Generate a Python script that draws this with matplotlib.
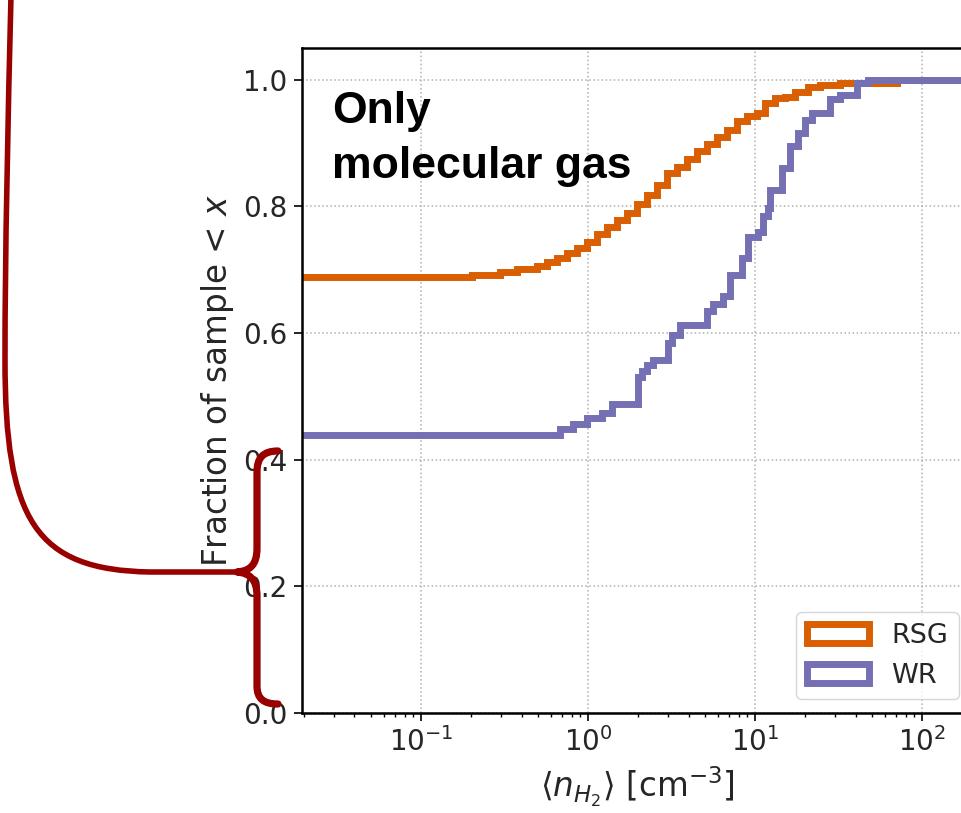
import matplotlib
matplotlib.use("Agg")
import matplotlib.pyplot as plt
from matplotlib.path import Path
from matplotlib.patches import PathPatch, Patch

# Cumulative fractions of each sample below <n_H2>, read as step curves:
# each level holds from its edge up to the next edge.
rsg_start = 0.689
rsg_edges = [0.2020, 0.2972, 0.3756, 0.4950, 0.5681, 0.6522, 0.7484, 0.8592,
             0.9863, 1.132, 1.299, 1.492, 1.712, 1.966, 2.256, 2.590, 2.973,
             3.412, 3.916, 4.495, 5.160, 5.923, 6.798, 7.803, 8.956, 10.28,
             11.48, 13.18, 15.12, 17.36, 20.77, 24.50, 32.28, 70.8]
rsg_levels = [0.692, 0.697, 0.701, 0.706, 0.712, 0.718, 0.726, 0.735,
              0.743, 0.757, 0.767, 0.779, 0.790, 0.804, 0.818, 0.833, 0.852,
              0.862, 0.875, 0.887, 0.898, 0.909, 0.920, 0.935, 0.942, 0.948,
              0.963, 0.971, 0.973, 0.981, 0.989, 0.992, 0.994, 1.0]

wr_start = 0.439
wr_edges = [0.680, 0.813, 0.986, 1.213, 1.392, 1.993, 2.106, 2.256, 2.451,
            3.013, 3.184, 3.555, 5.16, 5.60, 6.43, 7.09, 8.36, 9.08, 10.42,
            11.17, 11.96, 12.30, 14.51, 16.20, 18.09, 19.93, 21.95, 28.13,
            32.28, 40.82, 47.51]
wr_levels = [0.448, 0.457, 0.466, 0.474, 0.488, 0.531, 0.540, 0.549, 0.558,
             0.584, 0.597, 0.613, 0.634, 0.645, 0.658, 0.692, 0.718, 0.752,
             0.760, 0.784, 0.797, 0.826, 0.860, 0.895, 0.916, 0.937, 0.947,
             0.969, 0.976, 0.994, 1.0]

series_names = ["RSG", "WR"]
series_colors = ["#d95f02", "#7570b3"]

x_range = (0.0194, 200)
y_range = (0.0, 1.05)
y_ticks = [0.0, 0.2, 0.4, 0.6, 0.8, 1.0]

W, H = 961, 813
fig = plt.figure(figsize=(W / 100, H / 100), dpi=100)
fig.patch.set_facecolor("white")


def fx(px):
    return px / W


def fy(py):
    return 1 - py / H


ax = fig.add_axes([fx(302), fy(713), (972.3 - 302) / W, (713 - 48) / H])

lw = 5
for name, color, start, edges, levels in [
    ("RSG", series_colors[0], rsg_start, rsg_edges, rsg_levels),
    ("WR", series_colors[1], wr_start, wr_edges, wr_levels),
]:
    xs = [x_range[0] / 2] + edges + [x_range[1] * 2]
    ys = [start] + levels + [levels[-1]]
    ax.step(xs, ys, where="post", color=color, lw=lw,
            solid_joinstyle="miter", solid_capstyle="butt")

ax.set_xscale("log")
ax.set_xlim(*x_range)
ax.set_ylim(*y_range)
ax.set_yticks(y_ticks)
ax.grid(True, which="major", ls=":", color="#b0b0b0", lw=1.1)
ax.set_axisbelow(True)

for s in ax.spines.values():
    s.set_linewidth(1.8)
    s.set_color("black")

ax.tick_params(axis="both", which="major", labelsize=20, length=5.5,
               width=1.2, pad=5, colors="black", labelcolor="#262626")
ax.tick_params(axis="x", which="minor", length=3, width=1)

ax.set_xlabel(r"$\langle n_{H_2}\rangle$ [cm$^{-3}$]", fontsize=23.5,
              color="#262626", labelpad=5)
ax.set_ylabel("Fraction of sample < $x$", fontsize=23.5, color="#262626",
              labelpad=5)

handles = [Patch(facecolor="none", edgecolor=c, lw=lw, label=n)
           for n, c in zip(series_names, series_colors)]
ax.legend(handles=handles, loc="lower right", fontsize=19.5,
          labelcolor="#262626", handlelength=2.3)

fig.text(fx(332), fy(178), "Only\nmolecular gas", family="Liberation Sans",
         weight="bold", fontsize=32, ha="left", va="baseline",
         linespacing=1.45, color="black")

# Dark red connector curve and curly brace
red = "#990000"


def pix_path(verts, codes):
    return Path([(fx(x), fy(y)) for x, y in verts], codes)


M, C, L = Path.MOVETO, Path.CURVE4, Path.LINETO
curve_verts = [(11, -4), (8, 120), (5, 250), (5, 360),
               (5, 520), (35, 570), (150, 572), (240, 572)]
curve_codes = [M, C, C, C, C, C, C, L]
fig.add_artist(PathPatch(pix_path(curve_verts, curve_codes),
                         transform=fig.transFigure, fill=False,
                         edgecolor=red, lw=4, capstyle="round",
                         joinstyle="round"))

brace_verts = [(278, 451), (263, 451), (257, 458), (257, 472),
               (257, 548),
               (257, 565), (250, 571), (237, 572),
               (250, 573), (257, 580), (257, 596),
               (257, 686),
               (257, 699), (264, 704), (278, 704)]
brace_codes = [M, C, C, C, L, C, C, C, C, C, C, L, C, C, C]
fig.add_artist(PathPatch(pix_path(brace_verts, brace_codes),
                         transform=fig.transFigure, fill=False,
                         edgecolor=red, lw=5.2, capstyle="round",
                         joinstyle="round"))

fig.savefig("out.png", dpi=100, facecolor="white")
